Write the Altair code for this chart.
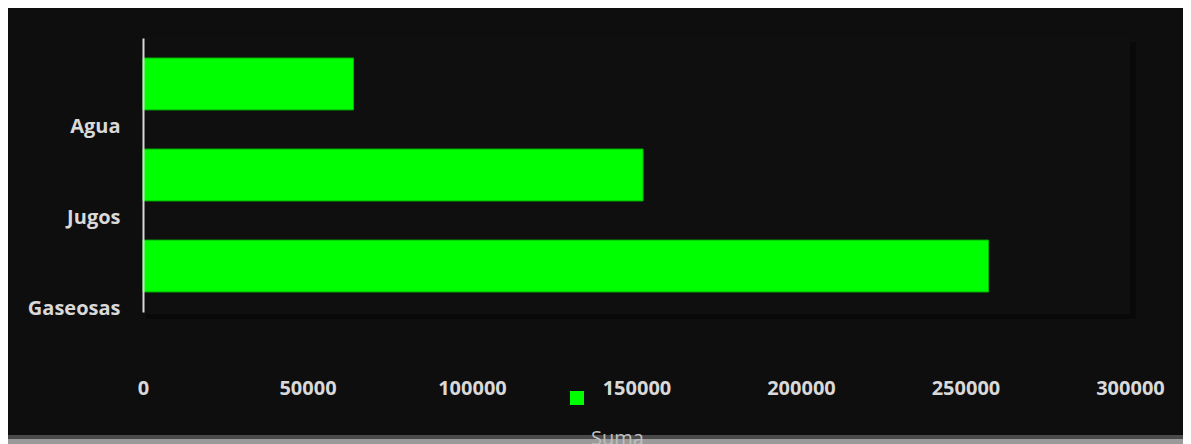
import altair as alt
import pandas as pd

# ---- data ----
productos = ["Agua", "Jugos", "Gaseosas"]
ventas = [64000, 152000, 257000]
serie = ["Suma", "Suma", "Suma"]
x_ticks = [0, 50000, 100000, 150000, 200000, 250000, 300000]
titulo = "Productos más vendidos 2024"

df = pd.DataFrame({"producto": productos, "ventas": ventas, "serie": serie})
one = pd.DataFrame({"k": [0]})

W, H = 987, 274
FONT = "Open Sans"
LABEL = "#d9d9d9"

# decorative backdrop (dark card + its shadow, inner panel + its shadow)
card_shadow_far = alt.Chart(one).mark_rect(color="#9a9a9a").encode(
    x=alt.value(-135), x2=alt.value(1040), y=alt.value(400), y2=alt.value(406)
)
card_shadow_near = alt.Chart(one).mark_rect(color="#4a4a4a").encode(
    x=alt.value(-135), x2=alt.value(1040), y=alt.value(396), y2=alt.value(401)
)
card = alt.Chart(one).mark_rect(color="#0e0e0e").encode(
    x=alt.value(-135), x2=alt.value(1040), y=alt.value(-30), y2=alt.value(397)
)
panel_shadow = alt.Chart(one).mark_rect(color="#090909").encode(
    x=alt.value(3), x2=alt.value(993), y=alt.value(4), y2=alt.value(281)
)
panel = alt.Chart(one).mark_rect(color="#0f0f0f").encode(
    x=alt.value(0), x2=alt.value(987), y=alt.value(0), y2=alt.value(276)
)

bars = alt.Chart(df).mark_bar(stroke="#00b400", strokeWidth=1).encode(
    y=alt.Y(
        "producto:N",
        sort=productos,
        scale=alt.Scale(paddingInner=0.43, paddingOuter=0.22),
        axis=alt.Axis(
            title=None,
            ticks=False,
            grid=False,
            domain=True,
            domainColor=LABEL,
            domainWidth=2,
            labelOffset=43,
            labelPadding=23,
            labelFont=FONT,
            labelFontSize=20,
            labelFontWeight="bold",
            labelColor=LABEL,
            zindex=1,
        ),
    ),
    x=alt.X(
        "ventas:Q",
        scale=alt.Scale(domain=[0, 300000], nice=False),
        axis=alt.Axis(
            title=None,
            values=x_ticks,
            format="d",
            grid=False,
            domain=False,
            ticks=False,
            labelFlush=False,
            labelPadding=66,
            labelFont=FONT,
            labelFontSize=20,
            labelFontWeight="bold",
            labelColor=LABEL,
            zindex=1,
        ),
    ),
    color=alt.Color(
        "serie:N",
        scale=alt.Scale(range=["#00ff00"]),
        legend=alt.Legend(
            title=None,
            orient="none",
            legendX=424,
            legendY=350,
            padding=0,
            symbolType="square",
            symbolSize=196,
            symbolStrokeWidth=0,
            symbolOpacity=1,
            labelExpr="['', datum.label]",
            labelBaseline="top",
            labelOffset=4,
            labelFont=FONT,
            labelFontSize=20,
            labelColor="#bfbfbf",
        ),
    ),
)

chart = (
    alt.layer(card_shadow_far, card_shadow_near, card, panel_shadow, panel, bars)
    .properties(
        width=W,
        height=H,
        background="#ffffff",
        padding={"left": 135, "top": 30, "right": 53, "bottom": 132},
        autosize=alt.AutoSizeParams(type="none"),
        title=alt.TitleParams(
            titulo,
            anchor="start",
            frame="group",
            font="Liberation Sans",
            fontSize=32,
            fontStyle="italic",
            fontWeight="normal",
            color="#000000",
            dx=-133,
            offset=0,
        ),
    )
    .configure(style={"guide-label": {"lineHeight": 31}})
    .configure_view(strokeWidth=0, fill=None)
)

chart.save("out.html", embed_options={"renderer": "svg", "actions": False})
